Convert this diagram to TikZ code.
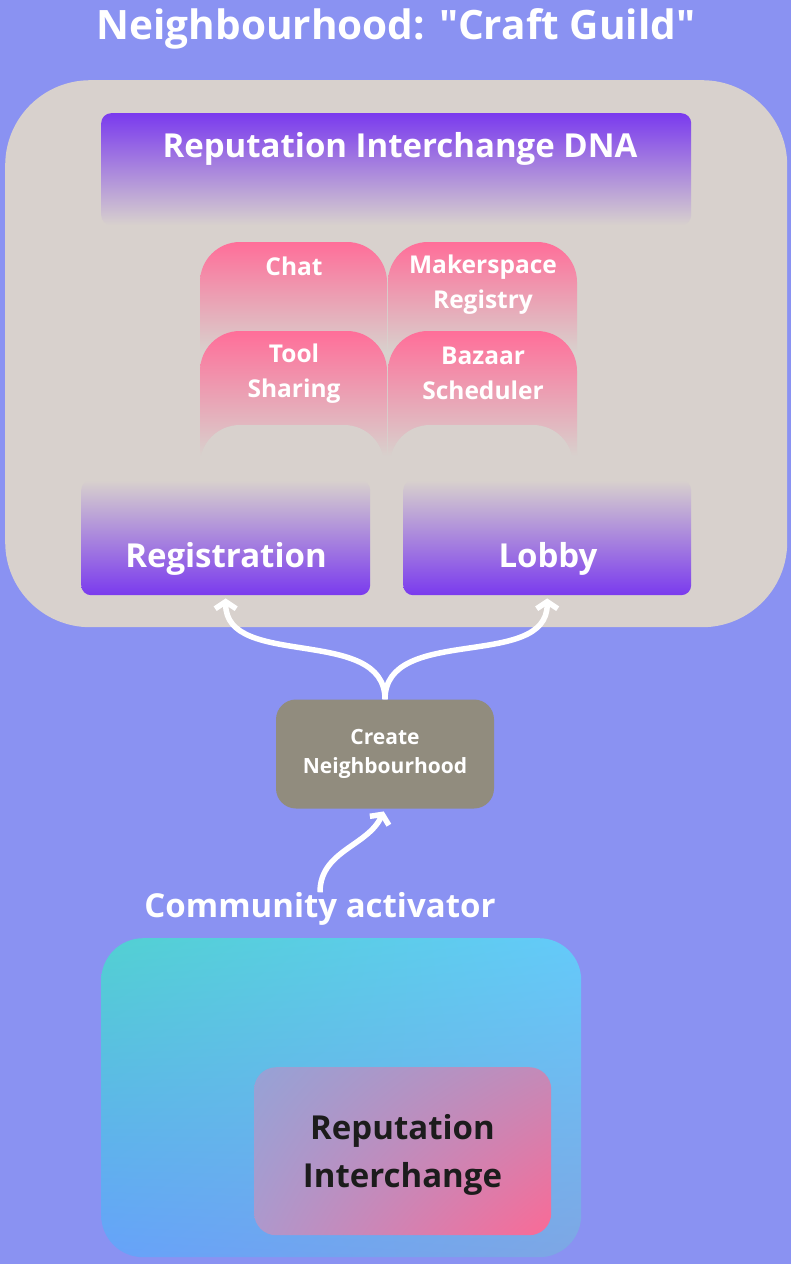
\documentclass[tikz,border=0pt]{standalone}
\usepackage{fontspec}
\setmainfont{Open Sans}[Ligatures=TeXOff]
\definecolor{skyback}{HTML}{8A92F2}
\definecolor{guildgrey}{HTML}{D8D1CD}
\definecolor{dnapurple}{HTML}{7A3AEE}
\definecolor{zomepink}{HTML}{FF6E99}
\definecolor{stonegrey}{HTML}{918C7E}
\definecolor{inkblack}{HTML}{1C1C1C}
\definecolor{appteal}{HTML}{52D0D2}
\definecolor{appsky}{HTML}{64CAFA}
\definecolor{appblue}{HTML}{66A2FA}
\definecolor{appdusk}{HTML}{7EA6E4}
\definecolor{ripurple}{HTML}{96A2D6}
\definecolor{rimauve}{HTML}{C48AB8}
\definecolor{rililac}{HTML}{AE98CC}
\definecolor{ripink}{HTML}{FA6A96}
\usetikzlibrary{arrows.meta,shadings}

\begin{document}
\begin{tikzpicture}[x=1pt,y=1pt,
    every node/.style={text=white, align=center, inner sep=0pt},
    tab/.style={top color=zomepink, bottom color=guildgrey},
    tabtext/.style={font=\fontsize{24.5}{35}\selectfont\bfseries},
    zome/.style={top color=guildgrey, bottom color=dnapurple, rounded corners=10pt, minimum height=115pt},
    bigtext/.style={font=\fontsize{33}{36}\selectfont\bfseries},
    flow/.style={white, line width=5.5pt, -{Straight Barb[length=7pt,width=21pt]}, shorten >=3pt}]
    \fill[skyback] (0,0) rectangle (791,-1264);
    \useasboundingbox (0,0) rectangle (791,-1264);
    \node[font=\fontsize{40.5}{44}\selectfont\bfseries] (title) at (396,-29) {Neighbourhood: "Craft Guild"};
    \node[fill=guildgrey, rounded corners=85pt, minimum width=782pt, minimum height=547pt, anchor=north west] (guild) at (5,-80) {};
    \node[top color=dnapurple, bottom color=guildgrey, rounded corners=10pt, minimum width=590pt, minimum height=112pt, anchor=north west] (dna) at (101,-113) {};
    \node[bigtext] (dnatitle) at (400,-149) {Reputation Interchange DNA};
    \shade[tab] (200,-352) -- (200,-282) arc[start angle=180,end angle=90,radius=40] -- (347,-242)
        arc[start angle=90,end angle=0,radius=40] -- (387,-352) -- cycle;
    \shade[tab] (388,-352) -- (388,-282) arc[start angle=180,end angle=90,radius=40] -- (537,-242)
        arc[start angle=90,end angle=0,radius=40] -- (577,-352) -- cycle;
    \shade[tab] (200,-456) -- (200,-371) arc[start angle=180,end angle=90,radius=40] -- (347,-331)
        arc[start angle=90,end angle=0,radius=40] -- (387,-456) -- cycle;
    \shade[tab] (388,-456) -- (388,-371) arc[start angle=180,end angle=90,radius=40] -- (537,-331)
        arc[start angle=90,end angle=0,radius=40] -- (577,-456) -- cycle;
    \fill[guildgrey] (200,-490) -- (200,-465) arc[start angle=180,end angle=90,radius=40] -- (344,-425)
        arc[start angle=90,end angle=0,radius=40] -- (384,-490) -- cycle;
    \fill[guildgrey] (390,-490) -- (390,-465) arc[start angle=180,end angle=90,radius=40] -- (533,-425)
        arc[start angle=90,end angle=0,radius=40] -- (573,-490) -- cycle;
    \node[tabtext] (chat) at (294,-266) {Chat};
    \node[tabtext] (maker) at (483,-284.5) {Makerspace\\Registry};
    \node[tabtext] (tool) at (294,-373.5) {Tool\\Sharing};
    \node[tabtext] (bazaar) at (483,-373.5) {Bazaar\\Scheduler};
    \node[zome, minimum width=289pt, anchor=north west] (reg) at (81,-480) {};
    \node[zome, minimum width=288pt, anchor=north west] (lobby) at (403,-480) {};
    \node[bigtext] (regtext) at (226,-559) {Registration};
    \node[bigtext] (lobbytext) at (548,-559) {Lobby};
    \node[fill=stonegrey, rounded corners=20pt, minimum width=218pt, minimum height=109pt,
        font=\fontsize{21}{29}\selectfont\bfseries] (create) at (385,-754) {Create\\Neighbourhood};
    \draw[flow] (create.north) to[out=90,in=-90] (reg.south);
    \draw[flow] (create.north) to[out=90,in=-90] (lobby.south);
    \node[bigtext] (activator) at (320,-909) {Community activator};
    \draw[flow] (activator.north) to[out=90,in=-115] (create.south);
    \node[upper left=appteal, upper right=appsky, lower left=appblue, lower right=appdusk,
        rounded corners=42pt, minimum width=480pt, minimum height=319pt, anchor=north west] (app) at (101,-938) {};
    \node[upper left=ripurple, upper right=rimauve, lower left=rililac, lower right=ripink,
        rounded corners=22pt, minimum width=297pt, minimum height=168pt, anchor=north west] (rep) at (254,-1067) {};
    \node[text=inkblack, font=\fontsize{33}{48}\selectfont\bfseries] (reptext) at (402.5,-1155) {Reputation\\Interchange};
\end{tikzpicture}
\end{document}
